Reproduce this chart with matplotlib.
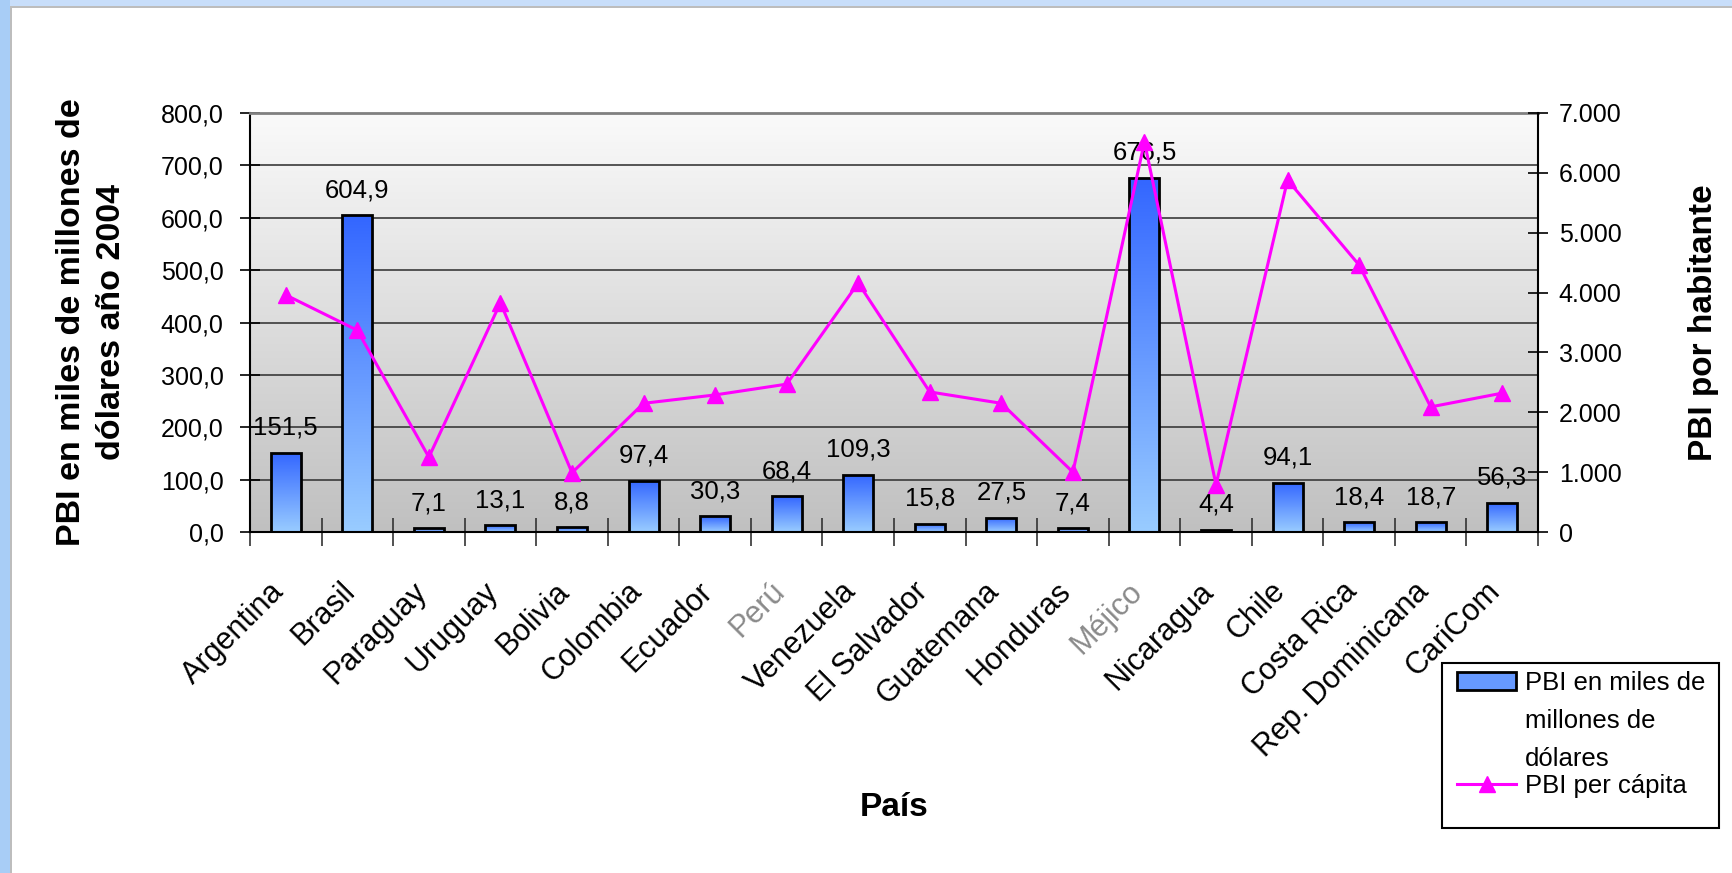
"""PBI 2004 por país (barras) y PBI per cápita (línea), eje doble."""
import numpy as np
import matplotlib
matplotlib.use("Agg")
import matplotlib.pyplot as plt
from matplotlib.colors import LinearSegmentedColormap
from matplotlib.legend_handler import HandlerPatch
from matplotlib.lines import Line2D
from matplotlib.patches import Patch, Rectangle
from matplotlib.ticker import FixedLocator

plt.rcParams["font.family"] = ["Liberation Sans", "DejaVu Sans"]

paises = ["Argentina", "Brasil", "Paraguay", "Uruguay", "Bolivia", "Colombia",
          "Ecuador", "Perú", "Venezuela", "El Salvador", "Guatemana", "Honduras",
          "Méjico", "Nicaragua", "Chile", "Costa Rica", "Rep. Dominicana", "CariCom"]
pbi = [151.5, 604.9, 7.1, 13.1, 8.8, 97.4, 30.3, 68.4, 109.3,
       15.8, 27.5, 7.4, 676.5, 4.4, 94.1, 18.4, 18.7, 56.3]
pbi_pc = [3960, 3370, 1250, 3830, 990, 2150, 2290, 2470, 4160,
          2340, 2150, 1000, 6520, 790, 5880, 4460, 2090, 2320]
ticks_pbi = [0, 100, 200, 300, 400, 500, 600, 700, 800]
ticks_pc = [0, 1000, 2000, 3000, 4000, 5000, 6000, 7000]
paises_grises = ["Perú", "Méjico"]   # salen desvaídos en el original

W, H = 1733, 873
fig = plt.figure(figsize=(W / 100, H / 100), dpi=100)
ax = fig.add_axes([250 / W, 1 - 532 / H, (1538 - 250) / W, (532 - 113) / H])

# marco celeste arriba y a la izquierda
fig.add_artist(Rectangle((0, 1 - 6 / H), 1, 6 / H, transform=fig.transFigure,
                         color="#C8DEFA", lw=0))
fig.add_artist(Rectangle((0, 1 - 8 / H), 1, 2 / H, transform=fig.transFigure,
                         color="#BDBDBD", lw=0))
fig.add_artist(Rectangle((0, 0), 10 / W, 1, transform=fig.transFigure,
                         color="#A8CDF6", lw=0))
fig.add_artist(Rectangle((10 / W, 0), 2 / W, 1 - 6 / H, transform=fig.transFigure,
                         color="#BDBDBD", lw=0))

x = np.arange(len(paises))
xlim = (-0.5, len(paises) - 0.5)

# fondo degradado del área de trazado
fondo = LinearSegmentedColormap.from_list("fondo", ["#C0C0C0", "#FAFAFA"])
ax.set_facecolor("none")
ax.imshow(np.linspace(0, 1, 256).reshape(-1, 1), extent=[0, 1, 0, 1],
          transform=ax.transAxes, origin="lower", cmap=fondo, aspect="auto",
          zorder=0)

# barras con degradado propio
azul = LinearSegmentedColormap.from_list("barra", ["#99CCFF", "#3366FF"])
bars = ax.bar(x, pbi, width=0.42, facecolor="none", edgecolor="black",
              linewidth=2, zorder=3)
grad = np.linspace(0, 1, 256).reshape(-1, 1)
for rect in bars:
    x0, y0 = rect.get_x(), rect.get_y()
    w, h = rect.get_width(), rect.get_height()
    im = ax.imshow(grad, extent=[x0, x0 + w, y0, y0 + h], origin="lower",
                   cmap=azul, aspect="auto", zorder=2)
    im.set_clip_path(rect)

for xi, v in zip(x, pbi):
    ax.annotate(f"{v:.1f}".replace(".", ","), (xi, v), xytext=(0, 13),
                textcoords="offset points", ha="center", va="baseline",
                fontsize=18.5, zorder=4)

ax.set_xlim(*xlim)
ax.set_ylim(0, 800)
ax.set_yticks(ticks_pbi)
ax.set_yticklabels([f"{t:.1f}".replace(".", ",") for t in ticks_pbi], fontsize=18)
ax.yaxis.grid(True, color="#3A3A3A", linewidth=1.2)
ax.set_axisbelow(True)

# rótulos inclinados: el final del texto cae sobre el centro de la categoría
ax.set_xticks(x - 0.24)
ax.set_xticklabels(paises, rotation=45, ha="right", va="top",
                   rotation_mode="anchor", fontsize=22)
for lbl in ax.get_xticklabels():
    if lbl.get_text() in paises_grises:
        lbl.set_color("#8A8A8A")
ax.xaxis.set_minor_locator(FixedLocator(np.arange(len(paises) + 1) - 0.5))
ax.tick_params(axis="x", which="major", length=0, pad=32)
ax.tick_params(axis="x", which="minor", length=20, direction="inout",
               width=1.2, color="#333333")
ax.tick_params(axis="y", length=14, direction="inout", width=1.2, pad=12)

for s in ("left", "bottom"):
    ax.spines[s].set_color("black")
    ax.spines[s].set_linewidth(1.5)
ax.spines["top"].set_color("#808080")
ax.spines["top"].set_linewidth(2)
ax.spines["right"].set_visible(False)

ax.set_ylabel("PBI en miles de millones de\ndólares año 2004", fontsize=24.5,
              fontweight="bold", labelpad=24, linespacing=1.4)
ax.set_xlabel("País", fontsize=24, fontweight="bold")
ax.xaxis.set_label_coords(0.5, -(792 - 532) / (532 - 113))

# línea de PBI per cápita en el eje derecho
ax2 = ax.twinx()
ax2.plot(x, pbi_pc, color="#FF00FF", linewidth=2.2, marker="^",
         markersize=11, zorder=5)
ax2.set_ylim(0, 7000)
ax2.set_yticks(ticks_pc)
ax2.set_yticklabels([f"{t:,}".replace(",", ".") for t in ticks_pc], fontsize=18)
ax2.tick_params(axis="y", length=14, direction="inout", width=1.2, pad=8)
ax2.spines["right"].set_color("black")
ax2.spines["right"].set_linewidth(1.5)
for s in ("top", "left", "bottom"):
    ax2.spines[s].set_visible(False)
ax2.set_ylabel("PBI por habitante", fontsize=24, fontweight="bold",
               labelpad=48)

# leyenda: marco fijo y entradas dentro
fig.add_artist(Rectangle((1442 / W, 1 - 828 / H), (1719 - 1442) / W,
                         (828 - 663) / H, transform=fig.transFigure,
                         facecolor="white", edgecolor="black", lw=1.5,
                         zorder=4))

FS_LEG = 18.5
INTERLINEA = 1.75


def parche_arriba(legend, orig_handle, xdescent, ydescent, width, height,
                  fontsize):
    # el rectángulo va a la altura de la primera línea del rótulo
    return Rectangle((-xdescent, -ydescent + 0.91 * INTERLINEA * fontsize),
                     width, height)


handles = [Patch(facecolor="#6699FF", edgecolor="black", linewidth=2),
           Line2D([], [], color="#FF00FF", linewidth=2.2, marker="^",
                  markersize=11)]
labels = ["PBI en miles de\nmillones de\ndólares", "PBI per cápita"]
leg = fig.legend(handles, labels, loc="upper left",
                 bbox_to_anchor=(1457 / W, 1 - 671 / H), borderaxespad=0,
                 fontsize=FS_LEG, frameon=False, borderpad=0,
                 handlelength=2.3, handletextpad=0.35, labelspacing=0.1,
                 handler_map={Patch: HandlerPatch(patch_func=parche_arriba)})
leg.set_zorder(5)
for t in leg.get_texts():
    t.set_linespacing(INTERLINEA)

fig.savefig("out.png", dpi=100)
